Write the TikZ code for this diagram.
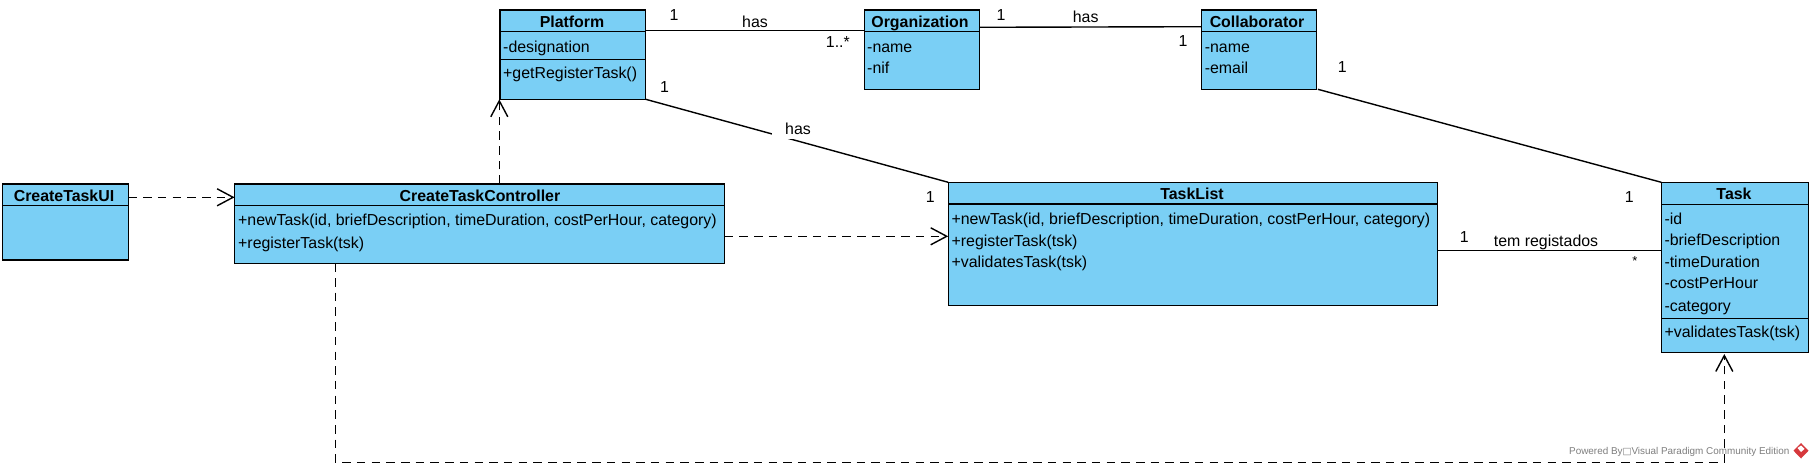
\documentclass[tikz,border=0pt]{standalone}
\usepackage{fontspec}
\setmainfont{Liberation Sans}
\newfontfamily\symfont{DejaVu Sans}
\usetikzlibrary{arrows.meta}
\definecolor{vpblue}{RGB}{122,207,245}
\definecolor{vpgray}{RGB}{125,125,125}
\definecolor{vpred}{RGB}{214,56,60}
\tikzset{
  classbox/.style={draw=black,fill=vpblue,line width=1.4pt,anchor=north west,inner sep=0pt,outer sep=0pt},
  sepline/.style={draw=black,line width=1.4pt},
  member/.style={anchor=west,inner sep=0pt,text height=11pt,text depth=0pt,font=\fontsize{15.9}{16}\selectfont},
  title/.style={anchor=center,inner sep=0pt,text height=11pt,text depth=0pt,font=\bfseries\fontsize{15.9}{16}\selectfont},
  lab/.style={anchor=center,inner sep=0pt,text height=11pt,text depth=0pt,font=\fontsize{15.9}{16}\selectfont},
  assoc/.style={draw=black,line width=1.4pt},
  dep/.style={draw=black,line width=1.5pt,dash pattern=on 8.5pt off 6.2pt,-{Straight Barb[length=16pt,width=17pt,line width=1.4pt]}},
}
\begin{document}
\begin{tikzpicture}[x=1pt,y=-1pt]
\useasboundingbox (0,0) rectangle (1813,468);
% watermark
\node[anchor=west,inner sep=0pt,text=vpgray,font=\fontsize{9.9}{10}\selectfont] (wm) at (1569,451.7) {Powered By{\symfont\fontsize{9.5}{10}\selectfont □}Visual Paradigm Community Edition};
\fill[vpred] (1801,443) -- (1808.5,450.7) -- (1801,458.5) -- (1793.5,450.7) -- cycle;
\fill[white] (1797.5,448) -- (1801,445.5) -- (1804.5,449) -- (1801,452) -- cycle;
% classes
\node[classbox,minimum width=145.9pt,minimum height=89.3pt] (platform) at (499.8,10) {};
\node[classbox,minimum width=126.1pt,minimum height=76pt] (ui) at (2.4,184) {};
\node[classbox,minimum width=490.1pt,minimum height=79.3pt] (ctrl) at (234.6,184) {};
\node[classbox,minimum width=115.3pt,minimum height=79.3pt] (org) at (864.3,10) {};
\node[classbox,minimum width=115pt,minimum height=79.3pt] (collab) at (1201.4,10) {};
\node[classbox,minimum width=489.1pt,minimum height=123pt] (tasklist) at (948.2,182.3) {};
\node[classbox,minimum width=147.4pt,minimum height=170.4pt] (task) at (1661.3,182.3) {};
% compartments
\draw[sepline] (platform.west |- 0,31.7) -- (platform.east |- 0,31.7);
\draw[sepline] (platform.west |- 0,59.3) -- (platform.east |- 0,59.3);
\draw[sepline] (ui.west |- 0,205.3) -- (ui.east |- 0,205.3);
\draw[sepline] (ctrl.west |- 0,205.3) -- (ctrl.east |- 0,205.3);
\draw[sepline] (org.west |- 0,31.7) -- (org.east |- 0,31.7);
\draw[sepline] (collab.west |- 0,31.7) -- (collab.east |- 0,31.7);
\draw[sepline] (tasklist.west |- 0,204) -- (tasklist.east |- 0,204);
\draw[sepline] (task.west |- 0,204.3) -- (task.east |- 0,204.3);
\draw[sepline] (task.west |- 0,318.3) -- (task.east |- 0,318.3);
% titles
\node[title] (tplatform) at (572,21.7) {Platform};
\node[title] (tui) at (64,196.3) {CreateTaskUI};
\node[title] (tctrl) at (480,196.3) {CreateTaskController};
\node[title] (torg) at (920,21.7) {Organization};
\node[title] (tcollab) at (1257,21.7) {Collaborator};
\node[title] (ttasklist) at (1192,194.3) {TaskList};
\node[title] (ttask) at (1734,194.3) {Task};
% members
\node[member] (m1) at (503,46.7) {-designation};
\node[member] (m2) at (503,73.3) {+getRegisterTask()};
\node[member] (m3) at (238,220.3) {+newTask(id, briefDescription, timeDuration, costPerHour, category)};
\node[member] (m4) at (238,242.7) {+registerTask(tsk)};
\node[member] (m5) at (867,46.7) {-name};
\node[member] (m6) at (867,67.7) {-nif};
\node[member] (m7) at (1204.6,46.7) {-name};
\node[member] (m8) at (1204.6,67.7) {-email};
\node[member] (m9) at (951.4,219.3) {+newTask(id, briefDescription, timeDuration, costPerHour, category)};
\node[member] (m10) at (951.4,240.7) {+registerTask(tsk)};
\node[member] (m11) at (951.4,262.3) {+validatesTask(tsk)};
\node[member] (m12) at (1664.3,219.3) {-id};
\node[member] (m13) at (1664.3,240.3) {-briefDescription};
\node[member] (m14) at (1664.3,262.3) {-timeDuration};
\node[member] (m15) at (1664.3,283.3) {-costPerHour};
\node[member] (m16) at (1664.3,305.7) {-category};
\node[member] (m17) at (1664.3,332.3) {+validatesTask(tsk)};
% associations
\draw[assoc] (platform.east |- 0,30.3) -- (org.west |- 0,30.3);
\draw[assoc] (org.east |- 0,27.3) -- (collab.west |- 0,26.7);
\draw[assoc] (platform.south east) -- (tasklist.north west);
\draw[assoc] (collab.south east) ++(1.5,0) -- (task.north west);
\draw[assoc] (tasklist.east |- 0,250.7) -- (task.west |- 0,250.7);
% association labels
\node[lab,fill=white,minimum width=53.5pt,minimum height=17.6pt] (has1) at (755,21.7) {has};
\node[lab] (has2) at (1085.7,17) {has};
\node[lab,fill=white,minimum width=52pt,minimum height=20pt] (has3) at (798,129) {has};
\node[lab] (tem) at (1546,240.7) {tem registados};
\node[lab] (n1) at (674,14.7) {1};
\node[lab] (n2) at (664.6,86.7) {1};
\node[lab] (n3) at (837.9,42.3) {1..*};
\node[lab] (n4) at (1001,14.7) {1};
\node[lab] (n5) at (1183,40.7) {1};
\node[lab] (n6) at (930.4,197.3) {1};
\node[lab] (n7) at (1342.3,67.3) {1};
\node[lab] (n8) at (1629.3,197.3) {1};
\node[lab] (n9) at (1464.3,237.3) {1};
\node[anchor=center,inner sep=0pt,font=\fontsize{13}{13}\selectfont] (n10) at (1635,261) {*};
% dependencies
\draw[dep] (ui.east |- 0,197.3) -- (ctrl.west |- 0,197.3);
\draw[dep] (ctrl.north -| 499.3,0) -- (platform.south -| 499.3,0);
\draw[dep] (ctrl.east |- 0,236.3) -- (tasklist.west |- 0,236.3);
\draw[dep] (ctrl.south -| 335.4,0) -- (335.4,462.3) -- (1724.3,462.3) -- (1724.3,354);
\end{tikzpicture}
\end{document}
